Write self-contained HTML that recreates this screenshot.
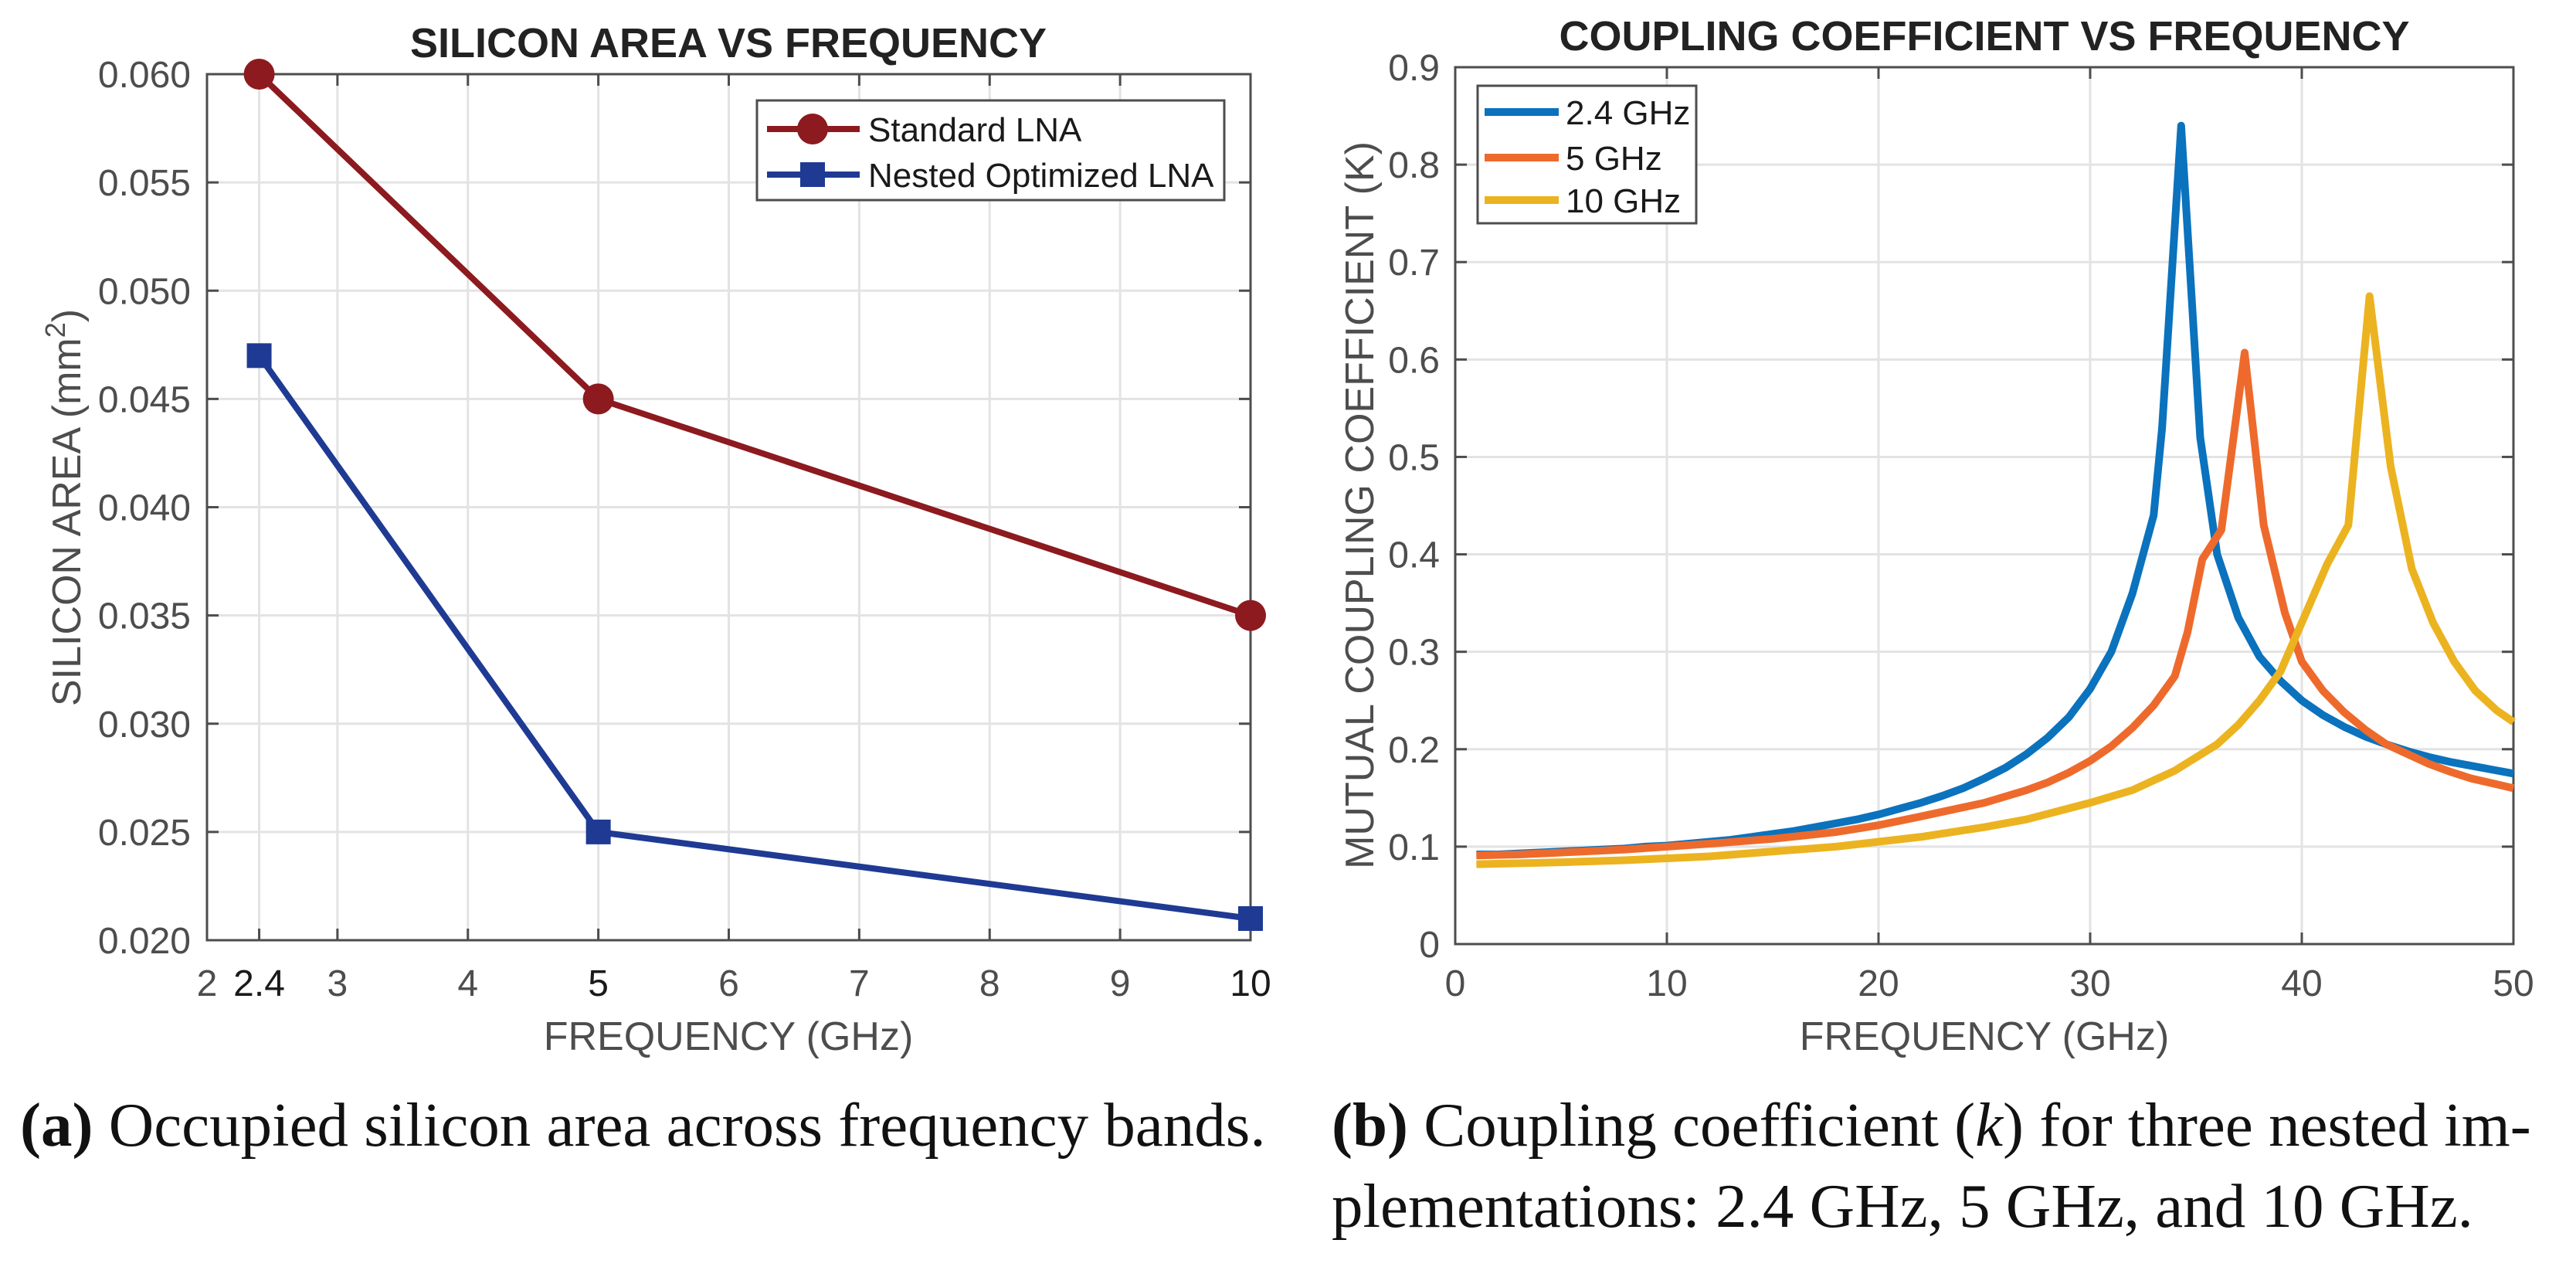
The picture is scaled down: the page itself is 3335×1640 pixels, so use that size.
<!DOCTYPE html>
<html><head><meta charset="utf-8"><style>
html,body{margin:0;padding:0;background:#fff;}
svg{display:block;}
text{font-family:"Liberation Sans",sans-serif;}
.cap{font-family:"Liberation Serif",serif;font-size:81px;fill:#111;}
</style></head><body>
<svg id="fig" width="3335" height="1640" viewBox="0 0 3335 1640" xmlns="http://www.w3.org/2000/svg">
<g id="left"></g>
<g id="right"></g>
<text class="cap" x="26" y="1483"><tspan font-weight="bold">(a)</tspan> Occupied silicon area across frequency bands.</text>
<text class="cap" x="1724" y="1483"><tspan font-weight="bold">(b)</tspan> Coupling coefficient (<tspan font-style="italic">k</tspan>) for three nested im-</text>
<text class="cap" x="1724" y="1588">plementations: 2.4 GHz, 5 GHz, and 10 GHz.</text>
</svg>
<script>
// ---- Left chart data ----
const freqA = [2.4, 5, 10];
const standardLNA = [0.060, 0.045, 0.035];
const nestedLNA = [0.047, 0.025, 0.021];
const xTicksA = [2, 2.4, 3, 4, 5, 6, 7, 8, 9, 10];
const xTickLabelsA = ["2","2.4","3","4","5","6","7","8","9","10"];
const yTicksA = [0.020,0.025,0.030,0.035,0.040,0.045,0.050,0.055,0.060];
const yTickLabelsA = ["0.020","0.025","0.030","0.035","0.040","0.045","0.050","0.055","0.060"];
// ---- Right chart data ----
const freq24 = [1,2,3,4,5,6,7,8,9,10,11,12,13,14,15,16,17,18,19,20,21,22,23,24,25,26,27,28,29,30,31,32,33,33.4,34.3,35.2,36,37,38,39,40,41,42,43,44,45,46,47,48,49,50];
const k24 = [.092,.092,.093,.094,.095,.096,.097,.098,.100,.101,.103,.105,.107,.110,.113,.116,.120,.124,.128,.133,.139,.145,.152,.160,.170,.181,.195,.212,.233,.262,.300,.360,.440,.53,.84,.52,.40,.335,.295,.27,.25,.235,.223,.213,.205,.198,.192,.187,.183,.179,.175];
const freq5 = [1,3,5,8,10,12,15,18,20,22,25,27,28,29,30,31,32,33,34,34.6,35.3,36.2,37.3,38.2,39.2,40,41,42,43,44,45,46,47,48,49,50];
const k5 = [.091,.092,.094,.097,.100,.103,.108,.115,.122,.131,.145,.158,.166,.176,.188,.203,.222,.245,.275,.32,.395,.425,.607,.43,.34,.29,.26,.238,.22,.205,.195,.185,.177,.17,.165,.16];
const freq10 = [1,3,5,8,10,12,15,18,20,22,25,27,30,32,34,36,37,38,39,40,41.2,42.2,43.2,44.2,45.2,46.2,47.2,48.2,49.2,50];
const k10 = [.082,.083,.084,.086,.088,.090,.095,.100,.105,.110,.120,.128,.145,.158,.178,.205,.225,.25,.28,.33,.39,.43,.665,.49,.385,.33,.29,.26,.24,.228];
const xTicksB = [0,10,20,30,40,50];
const yTicksB = [0,0.1,0.2,0.3,0.4,0.5,0.6,0.7,0.8,0.9];
const yTickLabelsB = ["0","0.1","0.2","0.3","0.4","0.5","0.6","0.7","0.8","0.9"];

const NS="http://www.w3.org/2000/svg";
function mk(tag, attrs, parent){const e=document.createElementNS(NS,tag);for(const k in attrs)e.setAttribute(k,attrs[k]);parent.appendChild(e);return e;}

function axes(g, L,R,T,B, xmin,xmax,ymin,ymax){
  const sx=v=>L+(v-xmin)/(xmax-xmin)*(R-L);
  const sy=v=>B-(v-ymin)/(ymax-ymin)*(B-T);
  return {sx,sy};
}

// ---------- LEFT ----------
(function(){
  const g=document.getElementById('left');
  const L=268,R=1619,T=96,B=1217;
  const {sx,sy}=axes(g,L,R,T,B,2,10,0.020,0.060);
  xTicksA.forEach((v,i)=>{
    const x=sx(v);
    const gl=mk('line',{x1:x,x2:x,y1:T,y2:B,stroke:'#e3e3e3','stroke-width':3},g);
    
    
    mk('line',{x1:x,x2:x,y1:B,y2:B-15,stroke:'#4d4d4d','stroke-width':3},g);
    mk('line',{x1:x,x2:x,y1:T,y2:T+15,stroke:'#4d4d4d','stroke-width':3},g);
    const dark=(xTickLabelsA[i]==="2.4"||xTickLabelsA[i]==="5"||xTickLabelsA[i]==="10");
    const t=mk('text',{x:x,y:1289,'text-anchor':'middle','font-size':48,fill:dark?'#1a1a1a':'#4d4d4d'},g);
    t.textContent=xTickLabelsA[i];
    
    
  });
  yTicksA.forEach((v,i)=>{
    const y=sy(v);
    const gl=mk('line',{x1:L,x2:R,y1:y,y2:y,stroke:'#e3e3e3','stroke-width':3},g);
    
    
    mk('line',{x1:L,x2:L+15,y1:y,y2:y,stroke:'#4d4d4d','stroke-width':3},g);
    mk('line',{x1:R,x2:R-15,y1:y,y2:y,stroke:'#4d4d4d','stroke-width':3},g);
    const t=mk('text',{x:247,y:y+17,'text-anchor':'end','font-size':48,fill:'#4d4d4d'},g);
    t.textContent=yTickLabelsA[i];
    
    
  });
  const box=mk('rect',{x:L,y:T,width:R-L,height:B-T,fill:'none',stroke:'#4d4d4d','stroke-width':3},g);
  
  
  const series=[[standardLNA,'#8c1a1f','circle','standard-lna'],[nestedLNA,'#1f3a93','square','nested-optimized-lna']];
  series.forEach(([vals,col,mkType,name])=>{
    const pts=freqA.map((f,i)=>sx(f)+','+sy(vals[i])).join(' ');
    const pl=mk('polyline',{points:pts,fill:'none',stroke:col,'stroke-width':8,'stroke-linejoin':'round'},g);
    
    
    freqA.forEach((f,i)=>{
      let m;
      if(mkType==='circle') m=mk('circle',{cx:sx(f),cy:sy(vals[i]),r:20,fill:col},g);
      else m=mk('rect',{x:sx(f)-16,y:sy(vals[i])-16,width:32,height:32,fill:col},g);
      
      
    });
  });
  const lg=mk('g',{},g);
  
  
  mk('rect',{x:980,y:130,width:605,height:129,fill:'#fff',stroke:'#4d4d4d','stroke-width':3},lg);
  mk('line',{x1:993,x2:1113,y1:167,y2:167,stroke:'#8c1a1f','stroke-width':8},lg);
  mk('circle',{cx:1052,cy:167,r:20,fill:'#8c1a1f'},lg);
  let t=mk('text',{x:1124,y:183,'font-size':44,fill:'#1a1a1a'},lg);t.textContent='Standard LNA';
  
  
  mk('line',{x1:993,x2:1113,y1:226,y2:226,stroke:'#1f3a93','stroke-width':8},lg);
  mk('rect',{x:1036,y:210,width:32,height:32,fill:'#1f3a93'},lg);
  t=mk('text',{x:1124,y:242,'font-size':44,fill:'#1a1a1a'},lg);t.textContent='Nested Optimized LNA';
  
  
  t=mk('text',{x:943,y:74,'text-anchor':'middle','font-size':54,'font-weight':'bold',fill:'#222'},g);t.textContent='SILICON AREA VS FREQUENCY';
  
  
  t=mk('text',{x:943,y:1359,'text-anchor':'middle','font-size':52,fill:'#4d4d4d'},g);t.textContent='FREQUENCY (GHz)';
  
  
  t=mk('text',{x:0,y:0,'text-anchor':'middle','font-size':52,fill:'#4d4d4d',transform:'translate(104,657) rotate(-90)'},g);
  t.innerHTML='SILICON AREA (mm<tspan dy="-20" font-size="36">2</tspan><tspan dy="20">)</tspan>';
  
  
})();

// ---------- RIGHT ----------
(function(){
  const g=document.getElementById('right');
  const L=1884,R=3254,T=87,B=1222;
  const {sx,sy}=axes(g,L,R,T,B,0,50,0,0.9);
  xTicksB.forEach(v=>{
    const x=sx(v);
    const gl=mk('line',{x1:x,x2:x,y1:T,y2:B,stroke:'#e3e3e3','stroke-width':3},g);
    
    
    mk('line',{x1:x,x2:x,y1:B,y2:B-15,stroke:'#4d4d4d','stroke-width':3},g);
    mk('line',{x1:x,x2:x,y1:T,y2:T+15,stroke:'#4d4d4d','stroke-width':3},g);
    const t=mk('text',{x:x,y:1289,'text-anchor':'middle','font-size':48,fill:'#4d4d4d'},g);
    t.textContent=String(v);
    
    
  });
  yTicksB.forEach((v,i)=>{
    const y=sy(v);
    const gl=mk('line',{x1:L,x2:R,y1:y,y2:y,stroke:'#e3e3e3','stroke-width':3},g);
    
    
    mk('line',{x1:L,x2:L+15,y1:y,y2:y,stroke:'#4d4d4d','stroke-width':3},g);
    mk('line',{x1:R,x2:R-15,y1:y,y2:y,stroke:'#4d4d4d','stroke-width':3},g);
    const t=mk('text',{x:1864,y:y+17,'text-anchor':'end','font-size':48,fill:'#4d4d4d'},g);
    t.textContent=yTickLabelsB[i];
    
    
  });
  const box=mk('rect',{x:L,y:T,width:R-L,height:B-T,fill:'none',stroke:'#4d4d4d','stroke-width':3},g);
  
  
  const series=[[freq24,k24,'#0b72bd','series-2-4-ghz'],[freq5,k5,'#ee6a2c','series-5-ghz'],[freq10,k10,'#ecb320','series-10-ghz']];
  series.forEach(([xs,ys,col,name])=>{
    const pts=xs.map((f,i)=>sx(f)+','+sy(ys[i])).join(' ');
    const pl=mk('polyline',{points:pts,fill:'none',stroke:col,'stroke-width':10,'stroke-linejoin':'round'},g);
    
    
  });
  const lg=mk('g',{},g);
  
  
  mk('rect',{x:1913,y:111,width:283,height:178,fill:'#fff',stroke:'#4d4d4d','stroke-width':3},lg);
  const ent=[['2.4 GHz','#0b72bd',145],['5 GHz','#ee6a2c',204],['10 GHz','#ecb320',259]];
  ent.forEach(([lab,col,y])=>{
    mk('line',{x1:1922,x2:2018,y1:y,y2:y,stroke:col,'stroke-width':10},lg);
    const t=mk('text',{x:2027,y:y+16,'font-size':44,fill:'#1a1a1a'},lg);t.textContent=lab;
    
    
  });
  let t=mk('text',{x:2569,y:65,'text-anchor':'middle','font-size':54,'font-weight':'bold',fill:'#222'},g);t.textContent='COUPLING COEFFICIENT VS FREQUENCY';
  
  
  t=mk('text',{x:2569,y:1359,'text-anchor':'middle','font-size':52,fill:'#4d4d4d'},g);t.textContent='FREQUENCY (GHz)';
  
  
  t=mk('text',{x:0,y:0,'text-anchor':'middle','font-size':52,fill:'#4d4d4d',transform:'translate(1778,654) rotate(-90)'},g);t.textContent='MUTUAL COUPLING COEFFICIENT (K)';
  
  
})();
</script>
</body></html>
